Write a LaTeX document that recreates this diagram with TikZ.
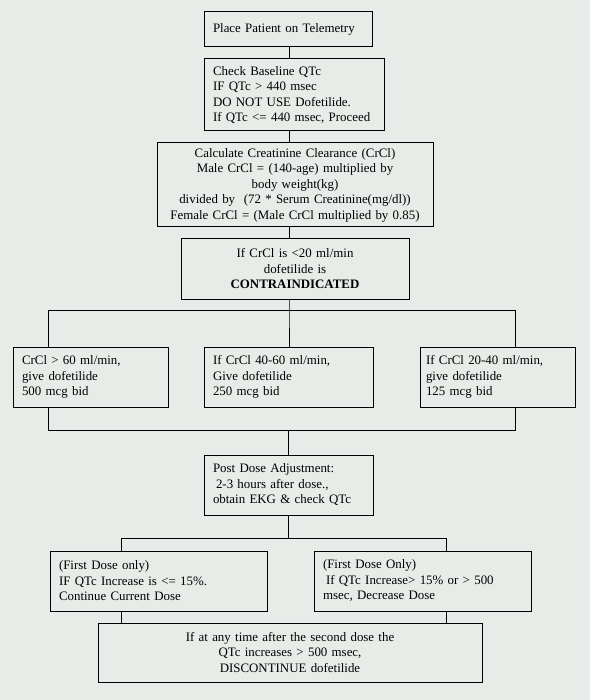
\documentclass[tikz,border=0pt]{standalone}
\usepackage{fontspec}
\setmainfont{Liberation Serif}
\usepackage{xcolor}
\usepackage{tikz}
\usetikzlibrary{positioning}
\definecolor{bgpanel}{RGB}{232,236,232}

\begin{document}
\begin{tikzpicture}[
    % GLOBAL CFG
    x=1pt, y=-1pt,
    font=\fontsize{12.9}{15.5}\selectfont,
    line width=1pt,
    % Styles
    box/.style={% For every box
        rectangle,
        draw,
        inner xsep=9pt,
        inner ysep=0pt,
        minimum height=60pt,
        },
    lbox/.style={% Box with text on the left
        box,
        align=left,
        text width=#1,
        },
    cbox/.style={% Box with centred text
        box,
        align=center,
        text width=#1,
        },
    ]

%Start drawing the thing...
    % Background
    \fill [bgpanel] (0,0) rectangle (590,700);

    % Main column
    \node [lbox=150pt, minimum height=35pt] (place) at (288,29.5) {Place Patient on Telemetry};
    \node [lbox=168pt, inner xsep=6pt, minimum height=72pt] (check) at (294,95) {\hspace*{3pt}Check Baseline QTc\\ \hspace*{3pt}IF QTc > 440 msec\\ \hspace*{3pt}DO NOT USE Dofetilide.\\ \hspace*{3pt}If QTc <= 440 msec, Proceed};
    \node [cbox=258pt, minimum height=84pt] (calc) at (295,185) {Calculate Creatinine Clearance (CrCl)\\ Male CrCl = (140-age) multiplied by\\ body weight(kg)\\ divided by~ (72 * Serum Creatinine(mg/dl))\\ Female CrCl = (Male CrCl multiplied by 0.85)};
    \node [cbox=210pt] (contra) at (295,269) {If CrCl is <20 ml/min\\ dofetilide is\\ \textbf{CONTRAINDICATED}};

    % Dose boxes named dose#
    \node [lbox=137pt] (doseA) at (90.5,377) {CrCl > 60 ml/min,\\ give dofetilide\\ 500 mcg bid};
    \node [lbox=151pt] (doseB) at (288.5,377) {If CrCl 40-60 ml/min,\\ Give dofetilide\\ 250 mcg bid};
    \node [lbox=143pt, inner xsep=6pt] (doseC) at (497.5,377) {If CrCl 20-40 ml/min,\\ give dofetilide\\ 125 mcg bid};

    % After the dose
    \node [lbox=151pt] (post) at (288.5,485) {Post Dose Adjustment:\\ \hspace*{3pt}2-3 hours after dose.,\\ obtain EKG \& check QTc};
    \node [lbox=199pt] (keep) at (158.5,581) {(First Dose only)\\ IF QTc Increase is <= 15\%.\\ Continue Current Dose};
    \node [lbox=199pt] (reduce) at (422.5,581) {(First Dose Only)\\ \hspace*{3pt}If QTc Increase> 15\% or > 500\\ msec, Decrease Dose};
    \node [cbox=366pt, minimum height=59pt] (stop) at (290,652.5) {If at any time after the second dose the\\ QTc increases > 500 msec,\\ DISCONTINUE dofetilide};

    % Connecting points
    \coordinate (trunk) at (289,0);
    \coordinate (split1) at (289,310);
    \coordinate (dropA) at (48,310);
    \coordinate (dropC) at (515,310);
    \coordinate (joinA) at (48,430);
    \coordinate (joinC) at (515,430);
    \coordinate (splitL) at (121,538);
    \coordinate (splitR) at (446,538);

    % Main column lines
    \draw (place.south -| trunk) -- (check.north -| trunk);
    \draw (check.south -| trunk) -- (calc.north -| trunk);
    \draw (calc.south -| trunk) -- (contra.north -| trunk);

    % Split to the doses
    \draw (contra.south -| trunk) -- (split1) -- (doseB.north -| split1);
    \draw (doseA.north -| dropA) -- (dropA) -- (dropC) -- (doseC.north -| dropC);

    % Join again
    \draw (doseA.south -| joinA) -- (joinA) -- (joinC) -- (doseC.south -| joinC);
    \draw (joinA -| post.north) -- (post.north);

    % Split after the dose
    \draw (post.south) -- (post.south |- splitL);
    \draw (keep.north -| splitL) -- (splitL) -- (splitR) -- (reduce.north -| splitR);
    \draw (keep.south -| splitL) -- (stop.north -| splitL);
    \draw (reduce.south -| splitR) -- (stop.north -| splitR);

\end{tikzpicture}
\end{document}
